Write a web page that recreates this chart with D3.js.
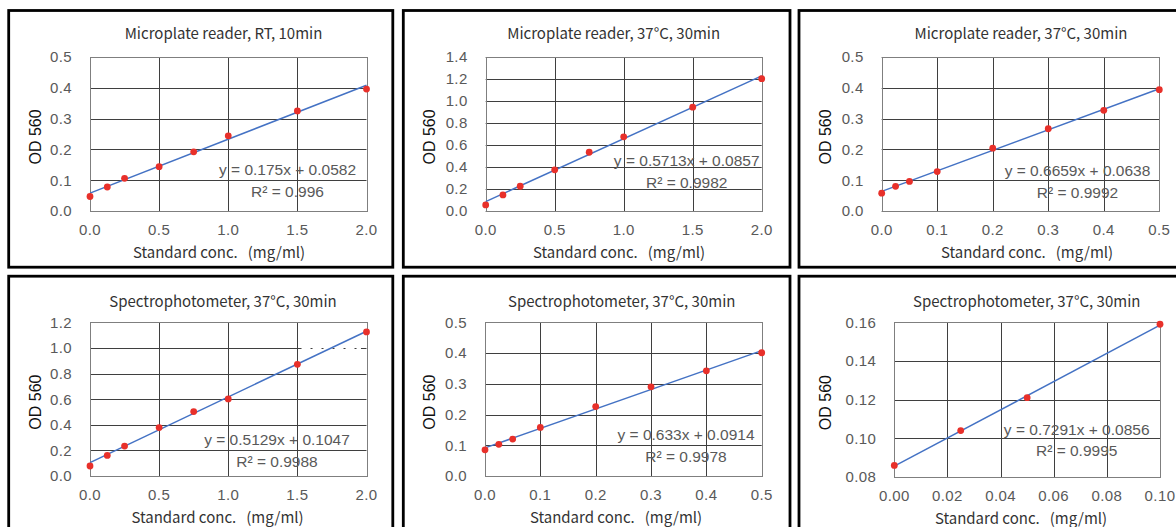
<!DOCTYPE html>
<html>
<head>
<meta charset="utf-8">
<script src="https://cdn.jsdelivr.net/npm/d3@7"></script>
<style>
  body { margin: 0; background: #fff; }
  svg { display: block; }
</style>
</head>
<body>
<svg id="chart" width="1176" height="527"></svg>
<script>
// standard concentrations (mg/ml)
const concWide = [0, 0.125, 0.25, 0.5, 0.75, 1.0, 1.5, 2.0];
const concNarrow = [0, 0.025, 0.05, 0.1, 0.2, 0.3, 0.4, 0.5];
const concLow = [0, 0.025, 0.05, 0.1];

// OD 560 readings, one list per panel
const odPlateRT = [0.047, 0.078, 0.106, 0.144, 0.192, 0.244, 0.325, 0.396];
const odPlate37 = [0.055, 0.146, 0.225, 0.374, 0.534, 0.674, 0.944, 1.203];
const odPlate37Narrow = [0.058, 0.080, 0.096, 0.128, 0.204, 0.267, 0.327, 0.394];
const odSpec37 = [0.078, 0.161, 0.234, 0.378, 0.503, 0.602, 0.872, 1.125];
const odSpec37Narrow = [0.085, 0.103, 0.120, 0.158, 0.226, 0.290, 0.342, 0.401];
const odSpec37Low = [0.086, 0.104, 0.121, 0.159];

// trendlines
const slopes = [0.175, 0.5713, 0.6659, 0.5129, 0.633, 0.7291];
const intercepts = [0.0582, 0.0857, 0.0638, 0.1047, 0.0914, 0.0856];
const eqLabels = ['y = 0.175x + 0.0582', 'y = 0.5713x + 0.0857', 'y = 0.6659x + 0.0638',
  'y = 0.5129x + 0.1047', 'y = 0.633x + 0.0914', 'y = 0.7291x + 0.0856'];
const r2Labels = ['R² = 0.996', 'R² = 0.9982', 'R² = 0.9992', 'R² = 0.9988', 'R² = 0.9978', 'R² = 0.9995'];

const titles = ['Microplate reader, RT, 10min', 'Microplate reader, 37°C, 30min', 'Microplate reader, 37°C, 30min',
  'Spectrophotometer, 37°C, 30min', 'Spectrophotometer, 37°C, 30min', 'Spectrophotometer, 37°C, 30min'];

// tick values
const xTicksWide = [0, 0.5, 1.0, 1.5, 2.0];
const xTicksNarrow = [0, 0.1, 0.2, 0.3, 0.4, 0.5];
const xTicksLow = [0, 0.02, 0.04, 0.06, 0.08, 0.10];
const yTicksHalf = [0, 0.1, 0.2, 0.3, 0.4, 0.5];
const yTicks14 = [0, 0.2, 0.4, 0.6, 0.8, 1.0, 1.2, 1.4];
const yTicks12 = [0, 0.2, 0.4, 0.6, 0.8, 1.0, 1.2];
const yTicksLow = [0.08, 0.10, 0.12, 0.14, 0.16];

const panels = [
  { x: concWide, y: odPlateRT, xt: xTicksWide, yt: yTicksHalf, fmt: '.1f' },
  { x: concWide, y: odPlate37, xt: xTicksWide, yt: yTicks14, fmt: '.1f' },
  { x: concNarrow, y: odPlate37Narrow, xt: xTicksNarrow, yt: yTicksHalf, fmt: '.1f' },
  { x: concWide, y: odSpec37, xt: xTicksWide, yt: yTicks12, fmt: '.1f' },
  { x: concNarrow, y: odSpec37Narrow, xt: xTicksNarrow, yt: yTicksHalf, fmt: '.1f' },
  { x: concLow, y: odSpec37Low, xt: xTicksLow, yt: yTicksLow, fmt: '.2f' }
];

// layout: frame, plot area, label anchors
const layout = [
  { frame: [8.7, 10.5, 392.8, 267.2], plot: [90, 57, 366.5, 211], titleX: 223.5, titleY: 39, axisX: 219, eqX: 287.5, eqY: 175 },
  { frame: [403.3, 10.5, 790, 267.2], plot: [485.7, 57, 761.7, 211], titleX: 613.7, titleY: 39, axisX: 619, eqX: 686.7, eqY: 166 },
  { frame: [799, 10.5, 1190, 267.2], plot: [881.7, 57, 1159.3, 211], titleX: 1021, titleY: 39, axisX: 1027, eqX: 1077.5, eqY: 176 },
  { frame: [8.7, 276.2, 392.8, 545], plot: [90, 322.3, 366.5, 476], titleX: 223, titleY: 306.5, axisX: 217.5, eqX: 277, eqY: 445 },
  { frame: [403.3, 276.2, 790, 545], plot: [485, 322.3, 761.7, 476], titleX: 621.7, titleY: 306.5, axisX: 616, eqX: 686, eqY: 440 },
  { frame: [799, 276.2, 1190, 545], plot: [894.3, 322.3, 1160, 477], titleX: 1026.7, titleY: 306.5, axisX: 1021, eqX: 1076.7, eqY: 434.5 }
];

const svg = d3.select('#chart');
const sans = '"Liberation Sans", Arial, sans-serif';
const cjk = '"Noto Sans CJK SC", "Noto Sans", sans-serif';

panels.forEach((p, i) => {
  const L = layout[i];
  const [fx0, fy0, fx1, fy1] = L.frame;
  const [px0, py0, px1, py1] = L.plot;

  // panel frame
  svg.append('rect')
    .attr('x', fx0).attr('y', fy0)
    .attr('width', fx1 - fx0).attr('height', fy1 - fy0)
    .attr('fill', 'none').attr('stroke', '#000').attr('stroke-width', 2.8);

  const x = d3.scaleLinear().domain(d3.extent(p.xt)).range([px0, px1]);
  const y = d3.scaleLinear().domain(d3.extent(p.yt)).range([py1, py0]);
  const g = svg.append('g');

  // gridlines
  g.selectAll('.hg').data(p.yt).enter().append('line')
    .attr('x1', px0).attr('x2', px1)
    .attr('y1', d => Math.round(y(d)) + 0.5).attr('y2', d => Math.round(y(d)) + 0.5)
    .attr('stroke', '#3f3f3f').attr('stroke-width', 1);
  g.selectAll('.vg').data(p.xt).enter().append('line')
    .attr('y1', py0).attr('y2', py1)
    .attr('x1', d => Math.round(x(d)) + 0.5).attr('x2', d => Math.round(x(d)) + 0.5)
    .attr('stroke', '#3f3f3f').attr('stroke-width', 1);
  g.append('rect')
    .attr('x', Math.round(px0) + 0.5).attr('y', Math.round(py0) + 0.5)
    .attr('width', Math.round(px1) - Math.round(px0)).attr('height', Math.round(py1) - Math.round(py0))
    .attr('fill', 'none').attr('stroke', '#7f7f7f').attr('stroke-width', 1);

  // the scanned original lost part of the 1.0 gridline in the spectrophotometer panel
  if (i === 3) {
    g.append('line')
      .attr('x1', x(1.53)).attr('x2', x(1.96))
      .attr('y1', Math.round(y(1.0)) + 0.5).attr('y2', Math.round(y(1.0)) + 0.5)
      .attr('stroke', '#fff').attr('stroke-width', 1.5)
      .attr('stroke-dasharray', '9,2');
  }

  // tick labels
  const fmt = d3.format(p.fmt);
  g.selectAll('.yl').data(p.yt).enter().append('text')
    .attr('x', px0 - 18).attr('y', d => y(d)).attr('dy', '0.36em')
    .attr('text-anchor', 'end')
    .style('font-family', sans).style('font-size', '15px').style('letter-spacing', '0.4px').attr('fill', '#595959')
    .text(d => fmt(d));
  g.selectAll('.xl').data(p.xt).enter().append('text')
    .attr('x', d => x(d)).attr('y', py1 + 24)
    .attr('text-anchor', 'middle')
    .style('font-family', sans).style('font-size', '15px').style('letter-spacing', '0.4px').attr('fill', '#595959')
    .text(d => fmt(d));

  // titles
  g.append('text')
    .attr('x', L.titleX).attr('y', L.titleY)
    .attr('text-anchor', 'middle')
    .style('font-family', cjk).style('font-size', '15px').attr('fill', '#333')
    .text(titles[i]);
  g.append('text')
    .attr('x', L.axisX).attr('y', py1 + 47)
    .attr('text-anchor', 'middle').attr('xml:space', 'preserve')
    .style('font-family', cjk).style('font-size', '15px').style('white-space', 'pre').attr('fill', '#333')
    .text('Standard conc.   (mg/ml)');
  g.append('text')
    .attr('transform', 'translate(' + (fx0 + 32) + ',' + ((py0 + py1) / 2 + 3) + ') rotate(-90)')
    .attr('text-anchor', 'middle')
    .style('font-family', sans).style('font-size', '16px').attr('fill', '#111')
    .text('OD 560');

  // trendline over the data range
  const xr = d3.extent(p.x);
  const line = d3.line().x(d => x(d)).y(d => y(slopes[i] * d + intercepts[i]));
  g.append('path')
    .datum(xr)
    .attr('d', line)
    .attr('fill', 'none').attr('stroke', '#4472c4').attr('stroke-width', 1.5);

  // points
  g.selectAll('.pt').data(p.x).enter().append('circle')
    .attr('cx', d => x(d)).attr('cy', (d, j) => y(p.y[j]))
    .attr('r', 3.4).attr('fill', '#e8302a');

  // equation label
  g.append('text')
    .attr('x', L.eqX).attr('y', L.eqY)
    .attr('text-anchor', 'middle')
    .style('font-family', sans).style('font-size', '15.5px').attr('fill', '#595959')
    .text(eqLabels[i]);
  g.append('text')
    .attr('x', L.eqX).attr('y', L.eqY + 21.5)
    .attr('text-anchor', 'middle')
    .style('font-family', sans).style('font-size', '15.5px').attr('fill', '#595959')
    .text(r2Labels[i]);
});
</script>
</body>
</html>
